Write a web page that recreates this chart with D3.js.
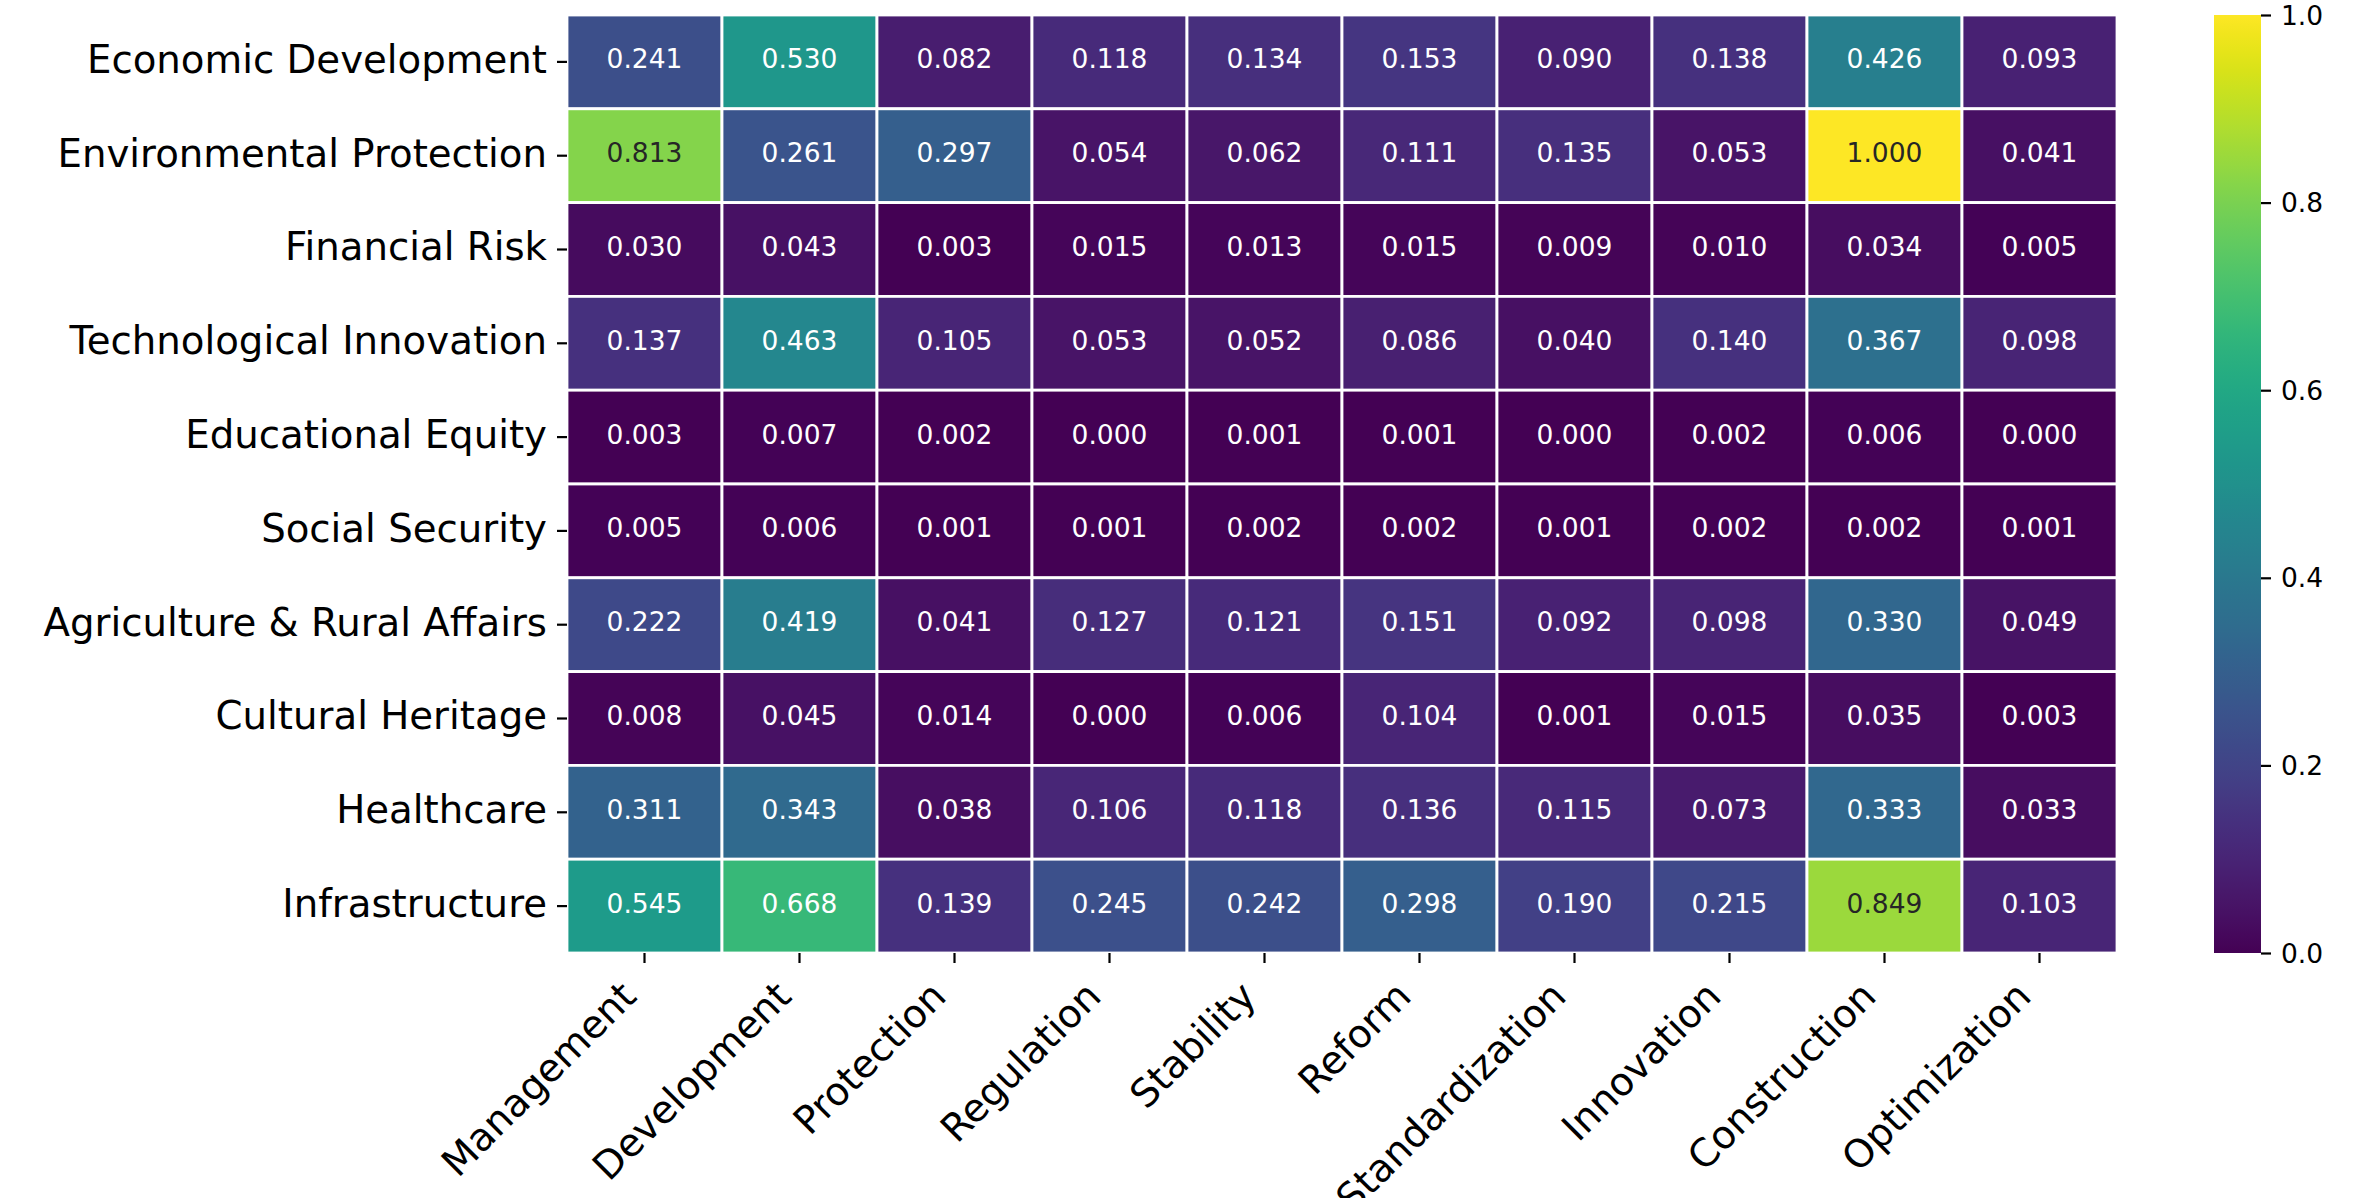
<!DOCTYPE html>
<html>
<head>
<meta charset="utf-8">
<script src="https://cdn.jsdelivr.net/npm/d3@7"></script>
<style>
  body { margin: 0; background: #fff; }
  text { font-family: "DejaVu Sans", sans-serif; }
</style>
</head>
<body>
<div id="chart"></div>
<script>
// data
var rows = ['Economic Development', 'Environmental Protection', 'Financial Risk',
  'Technological Innovation', 'Educational Equity', 'Social Security',
  'Agriculture & Rural Affairs', 'Cultural Heritage', 'Healthcare', 'Infrastructure'];
var cols = ['Management', 'Development', 'Protection', 'Regulation', 'Stability',
  'Reform', 'Standardization', 'Innovation', 'Construction', 'Optimization'];
var values = [
  [0.241, 0.530, 0.082, 0.118, 0.134, 0.153, 0.090, 0.138, 0.426, 0.093],
  [0.813, 0.261, 0.297, 0.054, 0.062, 0.111, 0.135, 0.053, 1.000, 0.041],
  [0.030, 0.043, 0.003, 0.015, 0.013, 0.015, 0.009, 0.010, 0.034, 0.005],
  [0.137, 0.463, 0.105, 0.053, 0.052, 0.086, 0.040, 0.140, 0.367, 0.098],
  [0.003, 0.007, 0.002, 0.000, 0.001, 0.001, 0.000, 0.002, 0.006, 0.000],
  [0.005, 0.006, 0.001, 0.001, 0.002, 0.002, 0.001, 0.002, 0.002, 0.001],
  [0.222, 0.419, 0.041, 0.127, 0.121, 0.151, 0.092, 0.098, 0.330, 0.049],
  [0.008, 0.045, 0.014, 0.000, 0.006, 0.104, 0.001, 0.015, 0.035, 0.003],
  [0.311, 0.343, 0.038, 0.106, 0.118, 0.136, 0.115, 0.073, 0.333, 0.033],
  [0.545, 0.668, 0.139, 0.245, 0.242, 0.298, 0.190, 0.215, 0.849, 0.103]
];
var cbarTicks = [0, 0.2, 0.4, 0.6, 0.8, 1.0];

var W = 2356, H = 1198;
var hm = {left: 567, right: 2117, top: 15, bottom: 953};
var cb = {left: 2214, right: 2261, top: 15, bottom: 953};
var labelSize = 38.7, annotSize = 26.5, tickLen = 10, tickPad = 10;

var svg = d3.select('#chart').append('svg')
  .attr('width', W).attr('height', H);
svg.append('rect').attr('width', W).attr('height', H).attr('fill', '#fff');

var x = d3.scaleBand().domain(cols).range([hm.left, hm.right]);
var y = d3.scaleBand().domain(rows).range([hm.top, hm.bottom]);
var color = d3.scaleSequential(d3.interpolateViridis).domain([0, 1]);

var cells = [];
values.forEach(function(r, i){
  r.forEach(function(v, j){ cells.push({row: rows[i], col: cols[j], v: v}); });
});

function luminance(c){
  var rgb = d3.rgb(c);
  var f = function(u){ u = u / 255; return u <= 0.03928 ? u / 12.92 : Math.pow((u + 0.055) / 1.055, 2.4); };
  return 0.2126 * f(rgb.r) + 0.7152 * f(rgb.g) + 0.0722 * f(rgb.b);
}

svg.append('g').selectAll('rect')
  .data(cells).enter().append('rect')
  .attr('x', function(d){ return x(d.col); })
  .attr('y', function(d){ return y(d.row); })
  .attr('width', x.bandwidth())
  .attr('height', y.bandwidth())
  .attr('fill', function(d){ return color(d.v); })
  .attr('stroke', '#fff')
  .attr('stroke-width', 2.8);

svg.append('g').selectAll('text')
  .data(cells).enter().append('text')
  .attr('x', function(d){ return x(d.col) + x.bandwidth() / 2; })
  .attr('y', function(d){ return y(d.row) + y.bandwidth() / 2 - 3; })
  .attr('text-anchor', 'middle')
  .attr('dominant-baseline', 'central')
  .attr('font-size', annotSize)
  .attr('fill', function(d){ return luminance(color(d.v)) > 0.408 ? '#262626' : '#fff'; })
  .text(function(d){ return d.v.toFixed(3); });

// y axis
var yAxis = svg.append('g')
  .attr('transform', 'translate(' + hm.left + ',0)')
  .call(d3.axisLeft(y).tickSize(tickLen).tickPadding(tickPad));
yAxis.select('.domain').remove();
yAxis.selectAll('line').attr('stroke', '#000').attr('stroke-width', 2.2);
yAxis.selectAll('text').attr('font-size', labelSize).attr('fill', '#000')
  .attr('dy', '0.28em')
  .attr('font-family', '"DejaVu Sans", sans-serif');

// x axis with 45deg labels, right/top aligned like matplotlib
var xAxis = svg.append('g')
  .attr('transform', 'translate(0,' + hm.bottom + ')')
  .call(d3.axisBottom(x).tickSize(tickLen).tickFormat(''));
xAxis.select('.domain').remove();
xAxis.selectAll('line').attr('stroke', '#000').attr('stroke-width', 2.2);

var xl = svg.append('g');
cols.forEach(function(c){
  var g = xl.append('g');
  g.append('text')
    .attr('font-size', labelSize)
    .attr('text-anchor', 'end')
    .attr('transform', 'rotate(-45)')
    .text(c);
  var bb = g.node().getBBox();
  var tx = x(c) + x.bandwidth() / 2 - (bb.x + bb.width);
  var ty = hm.bottom + tickLen + tickPad - bb.y;
  g.attr('transform', 'translate(' + tx + ',' + ty + ')');
});

// colorbar
var defs = svg.append('defs');
var grad = defs.append('linearGradient').attr('id', 'cbar')
  .attr('x1', 0).attr('y1', 1).attr('x2', 0).attr('y2', 0);
d3.range(0, 1.0001, 0.02).forEach(function(t){
  grad.append('stop').attr('offset', t).attr('stop-color', color(t));
});
svg.append('rect')
  .attr('x', cb.left).attr('y', cb.top)
  .attr('width', cb.right - cb.left).attr('height', cb.bottom - cb.top)
  .attr('fill', 'url(#cbar)');

var cy = d3.scaleLinear().domain([0, 1]).range([cb.bottom, cb.top]);
var cAxis = svg.append('g')
  .attr('transform', 'translate(' + cb.right + ',0)')
  .call(d3.axisRight(cy).tickValues(cbarTicks).tickSize(tickLen).tickPadding(tickPad)
    .tickFormat(d3.format('.1f')));
cAxis.select('.domain').remove();
cAxis.selectAll('line').attr('stroke', '#000').attr('stroke-width', 2.2);
cAxis.selectAll('text').attr('font-size', annotSize).attr('fill', '#000')
  .attr('dy', '0.34em')
  .attr('font-family', '"DejaVu Sans", sans-serif');
</script>
</body>
</html>
